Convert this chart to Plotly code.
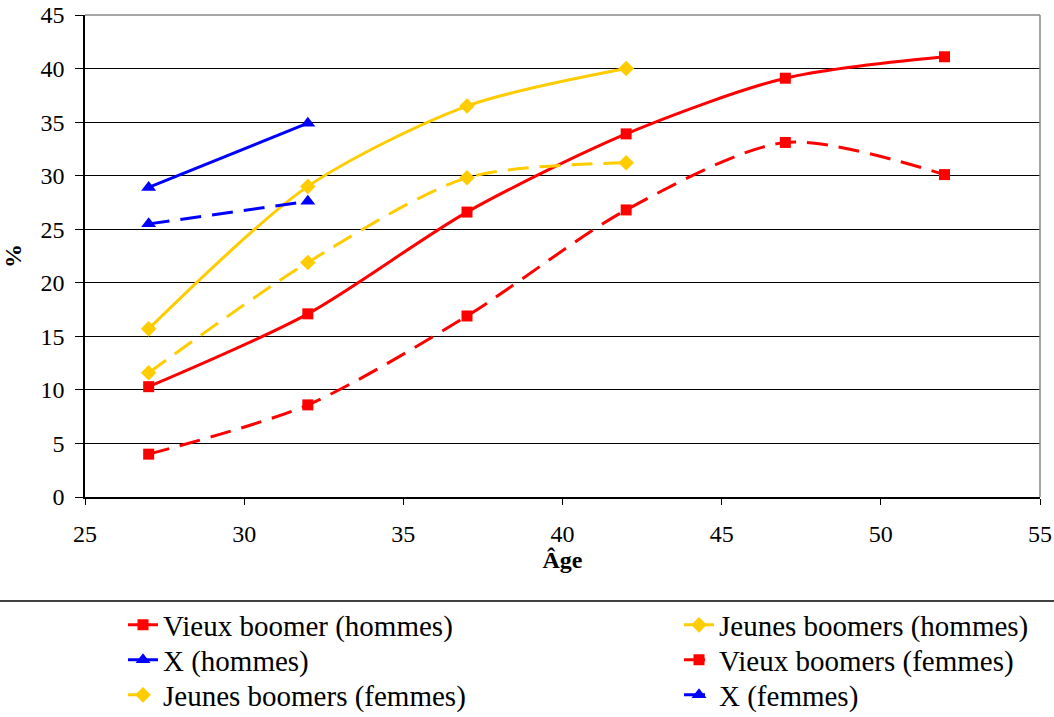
import plotly.graph_objects as go

ages_old = [27, 32, 37, 42, 47, 52]
ages_young = [27, 32, 37, 42]
ages_x = [27, 32]

vieux_h = [10.3, 17.1, 26.6, 33.9, 39.1, 41.1]
jeunes_h = [15.7, 29.0, 36.5, 40.0]
x_h = [28.9, 34.9]
vieux_f = [4.0, 8.6, 16.9, 26.8, 33.1, 30.1]
jeunes_f = [11.6, 21.9, 29.8, 31.2]
x_f = [25.5, 27.6]

RED = "#FF0000"
GOLD = "#FFCC00"
BLUE = "#0000FF"
DASH = "21px,11px"

series = [
    ("Vieux boomer (hommes)", ages_old, vieux_h, RED, "solid", "square", 11),
    ("Jeunes boomers (hommes)", ages_young, jeunes_h, GOLD, "solid", "diamond", 12),
    ("X (hommes)", ages_x, x_h, BLUE, "solid", "triangle-up", 13),
    ("Vieux boomers (femmes)", ages_old, vieux_f, RED, DASH, "square", 11),
    ("Jeunes boomers (femmes)", ages_young, jeunes_f, GOLD, DASH, "diamond", 12),
    ("X (femmes)", ages_x, x_f, BLUE, DASH, "triangle-up", 13),
]

# Legend grid: two columns (text left edge in px), three rows (centre y in px)
PLOT_L, PLOT_R, PLOT_T, PLOT_B = 85, 1040, 15, 497
PW, PH = PLOT_R - PLOT_L, PLOT_B - PLOT_T
COL_TEXT_X = [163, 719]
ROW_Y = [625, 660, 695]

FONT = "'Liberation Serif', 'Times New Roman', Times, serif"
TICKFONT = dict(family=FONT, size=24, color="black")

fig = go.Figure()
legends = {}
for i, (name, xs, ys, col, dash, sym, sz) in enumerate(series):
    key = "legend" if i == 0 else "legend%d" % (i + 1)
    fig.add_trace(go.Scatter(
        x=xs, y=ys, name=name, mode="lines+markers",
        line=dict(color=col, width=3, dash=dash, shape="spline", smoothing=0.8),
        marker=dict(symbol=sym, size=sz, color=col),
        legend=key,
    ))
    col_i, row_i = i % 2, i // 2
    legends[key] = dict(
        x=(COL_TEXT_X[col_i] - 40 - PLOT_L) / PW,
        y=(PLOT_B - ROW_Y[row_i]) / PH,
        xanchor="left", yanchor="middle", orientation="v",
        font=dict(family=FONT, size=29, color="black"),
        itemwidth=30, bgcolor="rgba(0,0,0,0)",
    )

fig.update_layout(
    width=1054, height=717,
    margin=dict(l=PLOT_L, r=1054 - PLOT_R, t=PLOT_T, b=717 - PLOT_B, autoexpand=False),
    paper_bgcolor="white", plot_bgcolor="white",
    font=dict(family=FONT, size=24, color="black"),
    showlegend=True,
    xaxis=dict(
        range=[25, 55], dtick=5, tick0=25,
        showgrid=False, zeroline=False,
        showline=True, linecolor="black", linewidth=1.5,
        mirror=False, ticks="outside", ticklen=6, tickcolor="black",
        ticklabelstandoff=8, tickfont=TICKFONT,
        title=dict(text="<b>Âge</b>", font=dict(family=FONT, size=24), standoff=5),
    ),
    yaxis=dict(
        range=[0, 45], dtick=5,
        showgrid=True, gridcolor="black", gridwidth=1,
        zeroline=False,
        showline=True, linecolor="black", linewidth=1.5,
        ticks="outside", ticklen=8, tickcolor="black",
        ticklabelstandoff=6, tickfont=TICKFONT,
        title=dict(text="<b>%</b>", font=dict(family=FONT, size=24), standoff=12),
    ),
    shapes=[
        dict(type="line", xref="paper", yref="paper", x0=1, x1=1, y0=0, y1=1,
             line=dict(color="#888888", width=1.5)),
        dict(type="line", xref="paper", yref="paper", x0=0, x1=1, y0=1, y1=1,
             line=dict(color="#888888", width=1.5)),
        dict(type="line", xref="paper", yref="paper", x0=-0.09, x1=1.02,
             y0=(PLOT_B - 601) / PH, y1=(PLOT_B - 601) / PH,
             line=dict(color="black", width=1.5)),
    ],
    **legends,
)

fig.write_html(
    "out.html",
    config={"displayModeBar": False},
    post_script="document.body.style.margin='0px';document.body.style.overflow='hidden';",
)
